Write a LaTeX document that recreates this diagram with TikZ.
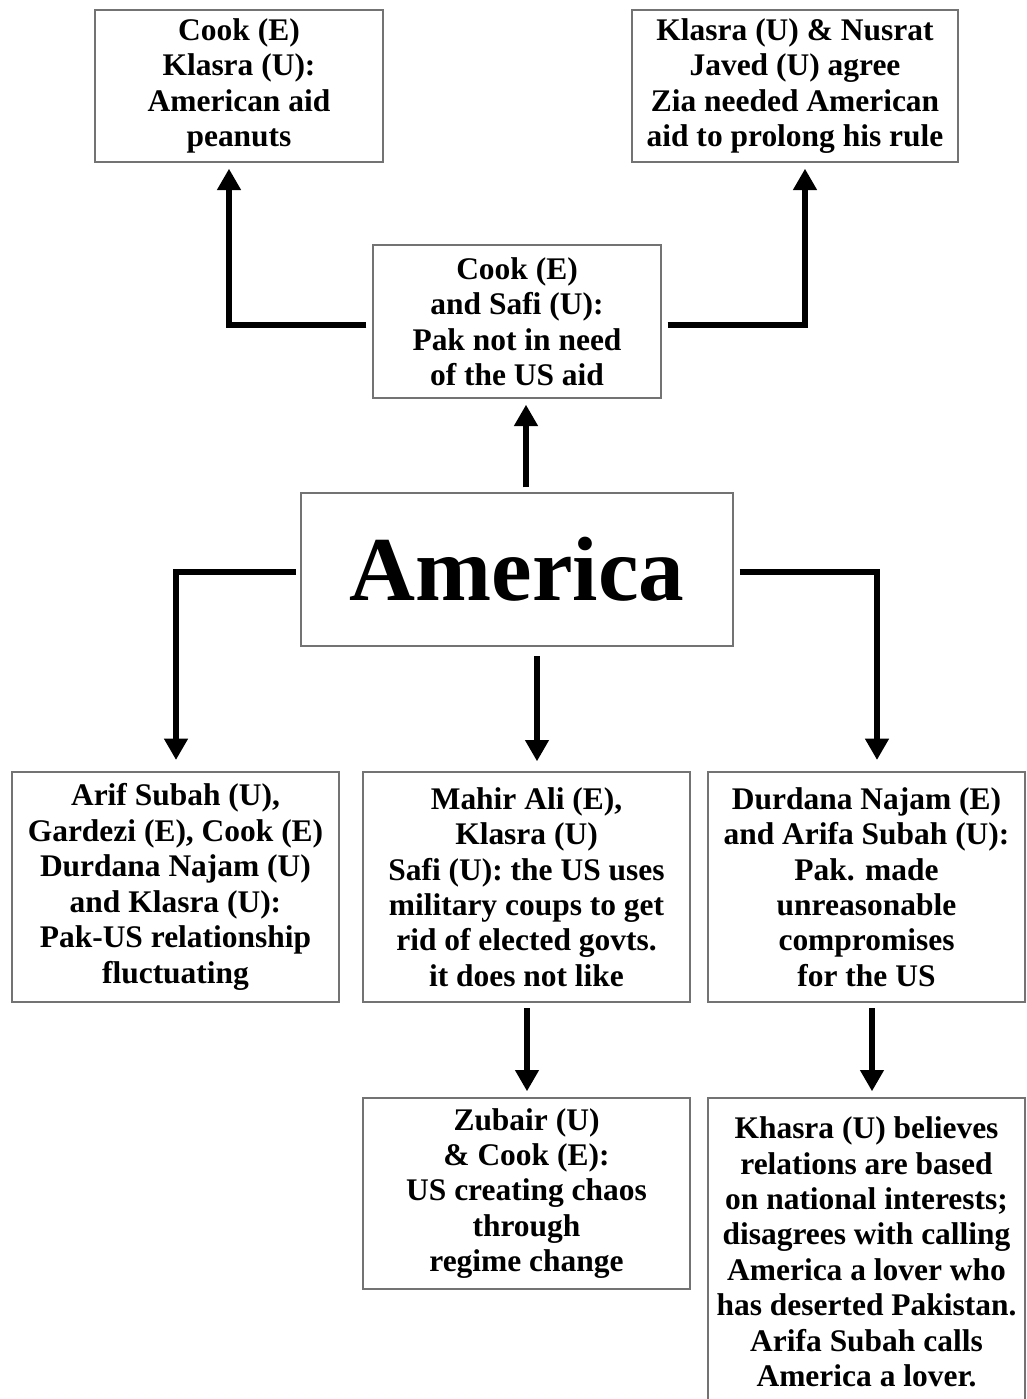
\documentclass[tikz,border=0pt]{standalone}
\usepackage{fontspec}
\setmainfont{Liberation Serif}
\usetikzlibrary{arrows.meta}
\begin{document}
\begin{tikzpicture}[x=0.75pt,y=-0.75pt,
  box/.style={draw=black!55,line width=1pt,inner sep=0pt,align=center,
    font=\bfseries\fontsize{23.6}{26.6}\selectfont},
  conn/.style={line width=4pt,-{Triangle[width=17pt,length=16pt]}},
  plain/.style={line width=4pt}]
\useasboundingbox (0,0) rectangle (1027,1399);
% boxes
\node[box,minimum width=216pt,minimum height=114pt] (tl) at (239,86)
  {Cook (E)\\Klasra (U):\\American aid\\peanuts};
\node[box,minimum width=244.5pt,minimum height=114pt] (tr) at (795,86)
  {Klasra (U) \& Nusrat\\Javed (U) agree\\Zia needed American\\aid to prolong his rule};
\node[box,minimum width=216pt,minimum height=114.75pt] (ms) at (517,321.5)
  {Cook (E)\\and Safi (U):\\Pak not in need\\of the US aid};
\node[box,minimum width=324pt,minimum height=114.75pt,
  font=\bfseries\fontsize{68.5}{70}\selectfont] (am) at (517,569.5) {America};
\node[box,minimum width=245.25pt,minimum height=172.5pt] (lb) at (175.5,887)
  {Arif Subah (U),\\Gardezi (E), Cook (E)\\Durdana Najam (U)\\and Klasra (U):\\Pak-US relationship\\fluctuating};
\node[box,minimum width=245.25pt,minimum height=172.5pt] (mb) at (526.5,887)
  {Mahir Ali (E),\\Klasra (U)\\Safi (U): the US uses\\military coups to get\\rid of elected govts.\\it does not like};
\node[box,minimum width=237.75pt,minimum height=172.5pt] (rb) at (866.5,887)
  {Durdana Najam (E)\\and Arifa Subah (U):\\Pak. made\\unreasonable\\compromises\\for the US};
\node[box,minimum width=245.25pt,minimum height=143.25pt] (zb) at (526.5,1193.5)
  {Zubair (U)\\\& Cook (E):\\US creating chaos\\through\\regime change};
\node[box,minimum width=237.75pt,minimum height=231pt] (kh) at (866.5,1252)
  {Khasra (U) believes\\relations are based\\on national interests;\\disagrees with calling\\America a lover who\\has deserted Pakistan.\\Arifa Subah calls\\America a lover.};
% bend points and connector columns
\coordinate (kL) at (229,325);
\coordinate (kR) at (805,325);
\coordinate (aL) at (176,572);
\coordinate (aR) at (877,572);
\coordinate (xu) at (526,0);
\coordinate (xd) at (537,0);
\coordinate (xz) at (527,0);
\coordinate (xk) at (872,0);
% connectors
\draw[conn,shorten <=4.5pt,shorten >=4.5pt] (ms.west |- kL) -- (kL) -- (kL |- tl.south);
\draw[conn,shorten <=4.5pt,shorten >=4.5pt] (ms.east |- kR) -- (kR) -- (kR |- tr.south);
\draw[conn,shorten <=3.75pt,shorten >=4.5pt] (am.north -| xu) -- (ms.south -| xu);
\draw[conn,shorten <=3.5pt,shorten >=8.5pt] (am.west |- aL) -- (aL) -- (aL |- lb.north);
\draw[conn,shorten <=4.5pt,shorten >=8.5pt] (am.east |- aR) -- (aR) -- (aR |- rb.north);
\draw[conn,shorten <=7pt,shorten >=7.5pt] (am.south -| xd) -- (mb.north -| xd);
\draw[conn,shorten <=4pt,shorten >=4.5pt] (mb.south -| xz) -- (zb.north -| xz);
\draw[conn,shorten <=4pt,shorten >=4.5pt] (rb.south -| xk) -- (kh.north -| xk);
\end{tikzpicture}
\end{document}
